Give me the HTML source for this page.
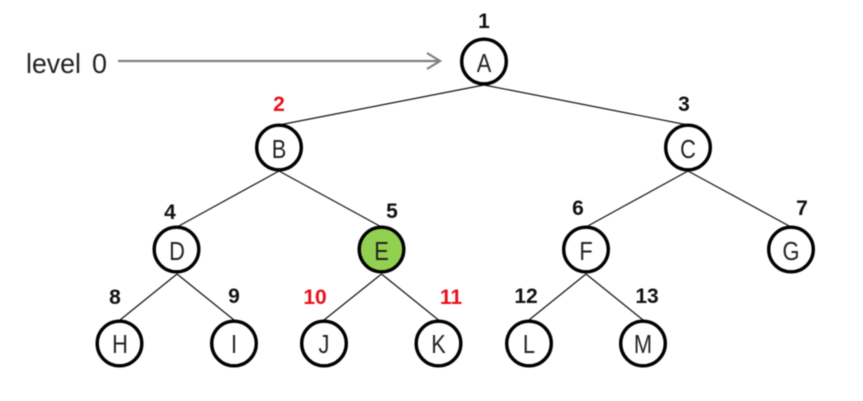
<!DOCTYPE html>
<html>
<head>
<meta charset="utf-8">
<style>
html,body{margin:0;padding:0;background:#fff;}
svg{display:block;filter:blur(0.4px);}
text{font-family:"Liberation Sans","DejaVu Sans",sans-serif;}
.n{font-size:26px;fill:#222;text-anchor:middle;transform-box:fill-box;transform-origin:center;transform:scaleX(.84);}
.b{font-size:21px;font-weight:bold;fill:#111;text-anchor:middle;}
.r{font-size:21px;font-weight:bold;fill:#e8101a;text-anchor:middle;}
circle{stroke:#000;stroke-width:3.4;fill:#fff;}
.e{stroke:#111;stroke-width:1.2;fill:none;}
</style>
</head>
<body>
<svg width="863" height="401" viewBox="0 0 863 401" xmlns="http://www.w3.org/2000/svg">
<rect width="863" height="401" fill="#fff"/>
<text x="26" y="73" font-size="28" fill="#222" textLength="55" lengthAdjust="spacingAndGlyphs">level</text>
<text x="92" y="73" font-size="28" fill="#222" textLength="15" lengthAdjust="spacingAndGlyphs">0</text>
<path d="M118 61H440M427 53L440 61L427 69" fill="none" stroke="#7f7f7f" stroke-width="2.2"/>
<path class="e" d="M484 85L279 125M484 85L688 125"/>
<path class="e" d="M279 171L177 227M279 171L381.500 227"/>
<path class="e" d="M688 171L586 227M688 171L791 227"/>
<path class="e" d="M177 274L120 320M177 274L234 320"/>
<path class="e" d="M381.500 274L324 320M381.500 274L438.500 320"/>
<path class="e" d="M586 274L529 320M586 274L643 320"/>
<circle cx="484" cy="61.500" r="22.300"/>
<circle cx="279" cy="147.500" r="22.300"/>
<circle cx="688" cy="147.500" r="22.300"/>
<circle cx="176.500" cy="249.500" r="22.300"/>
<circle cx="381.500" cy="249.500" r="22.300" style="fill:#92d050"/>
<circle cx="586" cy="249.500" r="22.300"/>
<circle cx="791" cy="249.500" r="22.300"/>
<circle cx="119.500" cy="343.500" r="22.300"/>
<circle cx="234" cy="343.500" r="22.300"/>
<circle cx="324" cy="343.500" r="22.300"/>
<circle cx="438.500" cy="343.500" r="22.300"/>
<circle cx="529" cy="343.500" r="22.300"/>
<circle cx="643" cy="343.500" r="22.300"/>
<text class="n" x="484" y="72">A</text>
<text class="n" x="279" y="158">B</text>
<text class="n" x="688" y="158">C</text>
<text class="n" x="177" y="260">D</text>
<text class="n" x="381.500" y="260">E</text>
<text class="n" x="586" y="260">F</text>
<text class="n" x="791" y="260">G</text>
<text class="n" x="120" y="353">H</text>
<text class="n" x="234" y="353">I</text>
<text class="n" x="324" y="353">J</text>
<text class="n" x="438.500" y="353">K</text>
<text class="n" x="529" y="353">L</text>
<text class="n" x="643" y="353">M</text>
<text class="b" x="484" y="28">1</text>
<text class="r" x="279" y="111">2</text>
<text class="b" x="684" y="111">3</text>
<text class="b" x="170" y="219">4</text>
<text class="b" x="392" y="218">5</text>
<text class="b" x="578" y="215">6</text>
<text class="b" x="802" y="215">7</text>
<text class="b" x="115" y="304">8</text>
<text class="b" x="234" y="303">9</text>
<text class="r" x="315" y="304">10</text>
<text class="r" x="451" y="304">11</text>
<text class="b" x="526" y="303">12</text>
<text class="b" x="647" y="303">13</text>
</svg>
</body>
</html>
